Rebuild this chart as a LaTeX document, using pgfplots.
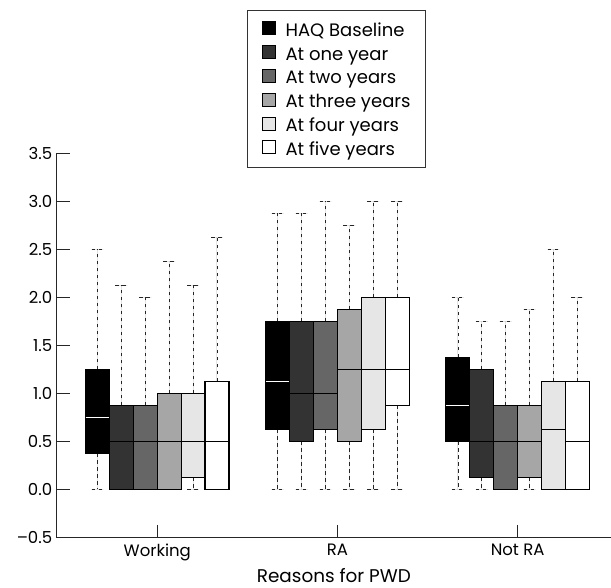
\documentclass[border=0pt]{standalone}
\usepackage{fontspec}
\setmainfont{Poppins}
\usepackage{pgfplots}
\pgfplotsset{compat=1.18}
\usepgfplotslibrary{statistics}
\definecolor{cA}{HTML}{000000}
\definecolor{cB}{HTML}{333333}
\definecolor{cC}{HTML}{666666}
\definecolor{cD}{HTML}{A6A6A6}
\definecolor{cE}{HTML}{E6E6E6}
\definecolor{cF}{HTML}{FFFFFF}
\begin{document}
\begin{tikzpicture}
\useasboundingbox (0,0) rectangle (611bp,588bp);
\begin{axis}[
  at={(56.7bp,50.5bp)}, anchor=south west,
  scale only axis, width=554.3bp, height=384bp,
  xmin=0.442, xmax=3.518, ymin=-0.5, ymax=3.5,
  axis lines=left, axis line style={-, line width=0.9bp, black!85},
  tick align=inside, major tick length=13bp,
  tick style={line width=0.9bp, black!85},
  xtick={1,2,3}, xticklabels={Working,RA,Not RA},
  ytick={-0.5,0,0.5,1,1.5,2,2.5,3,3.5},
  yticklabels={\textendash0.5,0.0,0.5,1.0,1.5,2.0,2.5,3.0,3.5},
  ticklabel style={font=\fontsize{16.5bp}{19bp}\selectfont},
  yticklabel style={xshift=-1bp},
  xticklabel style={yshift=-3bp},
  xlabel={Reasons for PWD},
  xlabel style={font=\fontsize{18.4bp}{21bp}\selectfont, yshift=-1bp},
  legend style={at={(axis description cs:0.3433,1.3724)}, anchor=north west,
    draw=black!80, line width=0.8bp, inner xsep=15bp, inner ysep=7bp,
    font=\fontsize{18bp}{21bp}\selectfont, column sep=9.4bp,
    nodes={inner sep=0pt, text height=18.4bp, text depth=5.4bp}},
  legend cell align=left,
  legend image code/.code={\draw[#1, draw=black, line width=0.8bp] (0bp,-5bp) rectangle (13bp,8bp);},
  boxplot/draw direction=y,
  boxplot/box extend=0.1326,
  boxplot/whisker extend=0.0663,
  boxplot/every box/.style={line width=1.2bp},
  boxplot/every median/.style={line width=1.3bp},
  boxplot/every whisker/.style={black!85, line width=0.8bp, dash pattern=on 3.5bp off 3.5bp},
]
\addlegendimage{fill=cA}
\addlegendimage{fill=cB}
\addlegendimage{fill=cC}
\addlegendimage{fill=cD}
\addlegendimage{fill=cE}
\addlegendimage{fill=cF}
\legend{HAQ Baseline,At one year,At two years,At three years,At four years,At five years}
% Working
\addplot[forget plot, fill=cA, draw=black, boxplot/every median/.style={white, line width=1.3bp}, boxplot prepared={draw position=0.6685, lower whisker=0, lower quartile=0.375, median=0.75, upper quartile=1.25, upper whisker=2.5}] coordinates {};
\addplot[forget plot, fill=cB, draw=black, boxplot prepared={draw position=0.8011, lower whisker=0, lower quartile=0, median=0.5, upper quartile=0.875, upper whisker=2.125}] coordinates {};
\addplot[forget plot, fill=cC, draw=black, boxplot prepared={draw position=0.9337, lower whisker=0, lower quartile=0, median=0.5, upper quartile=0.875, upper whisker=2.0}] coordinates {};
\addplot[forget plot, fill=cD, draw=black, boxplot prepared={draw position=1.0663, lower whisker=0, lower quartile=0, median=0.5, upper quartile=1.0, upper whisker=2.375}] coordinates {};
\addplot[forget plot, fill=cE, draw=black, boxplot prepared={draw position=1.1989, lower whisker=0, lower quartile=0.125, median=0.5, upper quartile=1.0, upper whisker=2.125}] coordinates {};
\addplot[forget plot, fill=cF, draw=black, boxplot prepared={draw position=1.3315, lower whisker=0, lower quartile=0, median=0.5, upper quartile=1.125, upper whisker=2.625}] coordinates {};
% RA
\addplot[forget plot, fill=cA, draw=black, boxplot/every median/.style={white, line width=1.3bp}, boxplot prepared={draw position=1.6685, lower whisker=0, lower quartile=0.625, median=1.125, upper quartile=1.75, upper whisker=2.875}] coordinates {};
\addplot[forget plot, fill=cB, draw=black, boxplot prepared={draw position=1.8011, lower whisker=0, lower quartile=0.5, median=1.0, upper quartile=1.75, upper whisker=2.875}] coordinates {};
\addplot[forget plot, fill=cC, draw=black, boxplot prepared={draw position=1.9337, lower whisker=0, lower quartile=0.625, median=1.0, upper quartile=1.75, upper whisker=3.0}] coordinates {};
\addplot[forget plot, fill=cD, draw=black, boxplot prepared={draw position=2.0663, lower whisker=0, lower quartile=0.5, median=1.25, upper quartile=1.875, upper whisker=2.75}] coordinates {};
\addplot[forget plot, fill=cE, draw=black, boxplot prepared={draw position=2.1989, lower whisker=0, lower quartile=0.625, median=1.25, upper quartile=2.0, upper whisker=3.0}] coordinates {};
\addplot[forget plot, fill=cF, draw=black, boxplot prepared={draw position=2.3315, lower whisker=0, lower quartile=0.875, median=1.25, upper quartile=2.0, upper whisker=3.0}] coordinates {};
% Not RA
\addplot[forget plot, fill=cA, draw=black, boxplot/every median/.style={white, line width=1.3bp}, boxplot prepared={draw position=2.6685, lower whisker=0, lower quartile=0.5, median=0.875, upper quartile=1.375, upper whisker=2.0}] coordinates {};
\addplot[forget plot, fill=cB, draw=black, boxplot prepared={draw position=2.8011, lower whisker=0, lower quartile=0.125, median=0.5, upper quartile=1.25, upper whisker=1.75}] coordinates {};
\addplot[forget plot, fill=cC, draw=black, boxplot prepared={draw position=2.9337, lower whisker=0, lower quartile=0, median=0.5, upper quartile=0.875, upper whisker=1.75}] coordinates {};
\addplot[forget plot, fill=cD, draw=black, boxplot prepared={draw position=3.0663, lower whisker=0, lower quartile=0.125, median=0.5, upper quartile=0.875, upper whisker=1.875}] coordinates {};
\addplot[forget plot, fill=cE, draw=black, boxplot prepared={draw position=3.1989, lower whisker=0, lower quartile=0, median=0.625, upper quartile=1.125, upper whisker=2.5}] coordinates {};
\addplot[forget plot, fill=cF, draw=black, boxplot prepared={draw position=3.3315, lower whisker=0, lower quartile=0, median=0.5, upper quartile=1.125, upper whisker=2.0}] coordinates {};
\end{axis}
\end{tikzpicture}
\end{document}
